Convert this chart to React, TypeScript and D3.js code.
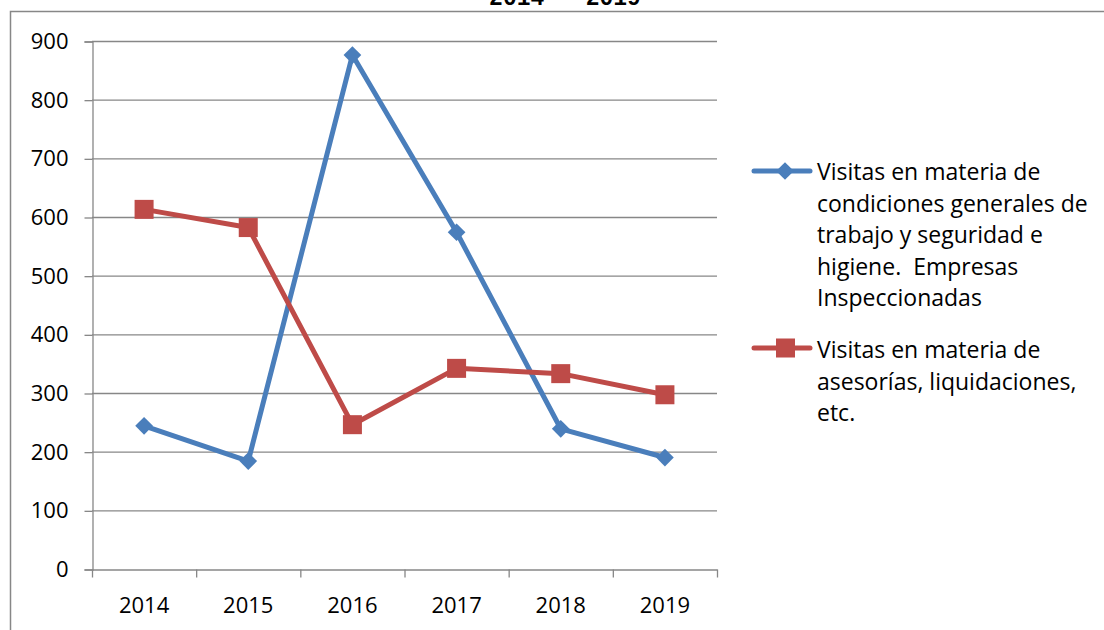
import React, { useEffect, useRef } from "react";
import * as d3 from "d3";

const years = ["2014", "2015", "2016", "2017", "2018", "2019"];
const condiciones = [244, 184, 876, 574, 239, 190];
const asesorias = [613, 582, 246, 342, 333, 297];
const yTicks = [0, 100, 200, 300, 400, 500, 600, 700, 800, 900];
const legendBlue = [
  "Visitas en materia de",
  "condiciones generales de",
  "trabajo y seguridad e",
  "higiene.  Empresas",
  "Inspeccionadas",
];
const legendRed = ["Visitas en materia de", "asesorías, liquidaciones,", "etc."];

const BLUE = "#4a7ebb";
const RED = "#be4b48";
const GRID = "#878787";
const FONT = "'Open Sans', sans-serif";

export default function App() {
  const ref = useRef<SVGSVGElement>(null);

  useEffect(() => {
    const svg = d3.select(ref.current);
    svg.selectAll("*").remove();

    // frame of the chart (cut off at right/bottom)
    svg.append("path")
      .attr("d", "M10.5,630 L10.5,11.5 L1104,11.5")
      .attr("fill", "none")
      .attr("stroke", GRID)
      .attr("stroke-width", 1.5);

    // title, mostly cut off at the top
    svg.append("text")
      .attr("x", 565)
      .attr("y", 5)
      .attr("text-anchor", "middle")
      .attr("font-family", "'Liberation Mono', monospace")
      .attr("font-weight", "bold")
      .attr("font-size", 23)
      .attr("xml:space", "preserve")
      .text("2014 - 2019");

    const x = d3.scaleBand().domain(years).range([92, 717]);
    const y = d3.scaleLinear().domain([0, 900]).range([569, 41]);

    const g = svg.append("g");

    // gridlines
    g.selectAll(".grid")
      .data(yTicks.slice(1))
      .join("line")
      .attr("x1", 92)
      .attr("x2", 717)
      .attr("y1", (d) => y(d) + 0.5)
      .attr("y2", (d) => y(d) + 0.5)
      .attr("stroke", GRID)
      .attr("stroke-width", 1.3);

    // y axis
    const yAxis = g.append("g")
      .attr("transform", "translate(92.5,0.5)")
      .call(d3.axisLeft(y).tickValues(yTicks).tickSize(8).tickPadding(16));
    yAxis.select(".domain").attr("stroke", GRID).attr("stroke-width", 1.3);
    yAxis.selectAll(".tick line").attr("stroke", GRID).attr("stroke-width", 1.3);
    yAxis.selectAll("text")
      .attr("font-family", FONT)
      .attr("font-size", 22)
      .attr("fill", "#000");

    // x axis
    const xAxis = g.append("g")
      .attr("transform", "translate(0,569.5)")
      .call(d3.axisBottom(x).tickSize(0).tickPadding(28));
    xAxis.select(".domain").attr("stroke", GRID).attr("stroke-width", 1.3);
    xAxis.selectAll("text")
      .attr("font-family", FONT)
      .attr("font-size", 22)
      .attr("fill", "#000");
    const bounds = years.map((yr) => x(yr) as number).concat([717]);
    xAxis.selectAll(".bt")
      .data(bounds)
      .join("line")
      .attr("x1", (d) => d + 0.5)
      .attr("x2", (d) => d + 0.5)
      .attr("y1", 0)
      .attr("y2", 8)
      .attr("stroke", GRID)
      .attr("stroke-width", 1.3);

    const cx = (i: number) => (x(years[i]) as number) + x.bandwidth() / 2;
    const line = d3.line<number>().x((_, i) => cx(i)).y((d) => y(d));

    // blue series
    g.append("path")
      .attr("d", line(condiciones))
      .attr("fill", "none")
      .attr("stroke", BLUE)
      .attr("stroke-width", 5)
      .attr("stroke-linejoin", "round");
    g.selectAll(".dm")
      .data(condiciones)
      .join("path")
      .attr("d", d3.symbol(d3.symbolDiamond2, 200)())
      .attr("transform", (d, i) => `translate(${cx(i)},${y(d)})`)
      .attr("fill", BLUE);

    // red series
    g.append("path")
      .attr("d", line(asesorias))
      .attr("fill", "none")
      .attr("stroke", RED)
      .attr("stroke-width", 5)
      .attr("stroke-linejoin", "round");
    g.selectAll(".sq")
      .data(asesorias)
      .join("rect")
      .attr("x", (_, i) => cx(i) - 9.5)
      .attr("y", (d) => y(d) - 9.5)
      .attr("width", 19)
      .attr("height", 19)
      .attr("fill", RED);

    // legend
    const leg = svg.append("g");
    const lh = 31.5;
    leg.append("line")
      .attr("x1", 754).attr("x2", 810).attr("y1", 171).attr("y2", 171)
      .attr("stroke", BLUE).attr("stroke-width", 5).attr("stroke-linecap", "round");
    leg.append("path")
      .attr("d", d3.symbol(d3.symbolDiamond2, 200)())
      .attr("transform", "translate(785,171)")
      .attr("fill", BLUE);
    legendBlue.forEach((t, i) => {
      leg.append("text")
        .attr("x", 817).attr("y", 180 + i * lh)
        .attr("font-family", FONT).attr("font-size", 23)
        .attr("xml:space", "preserve")
        .text(t);
    });
    leg.append("line")
      .attr("x1", 754).attr("x2", 810).attr("y1", 348).attr("y2", 348)
      .attr("stroke", RED).attr("stroke-width", 5).attr("stroke-linecap", "round");
    leg.append("rect")
      .attr("x", 776).attr("y", 338.5).attr("width", 19).attr("height", 19)
      .attr("fill", RED);
    legendRed.forEach((t, i) => {
      leg.append("text")
        .attr("x", 817).attr("y", 358 + i * lh)
        .attr("font-family", FONT).attr("font-size", 23)
        .text(t);
    });
  }, []);

  return (
    <svg
      ref={ref}
      width={1104}
      height={630}
      style={{ position: "fixed", left: 0, top: 0, background: "#fff" }}
    />
  );
}
